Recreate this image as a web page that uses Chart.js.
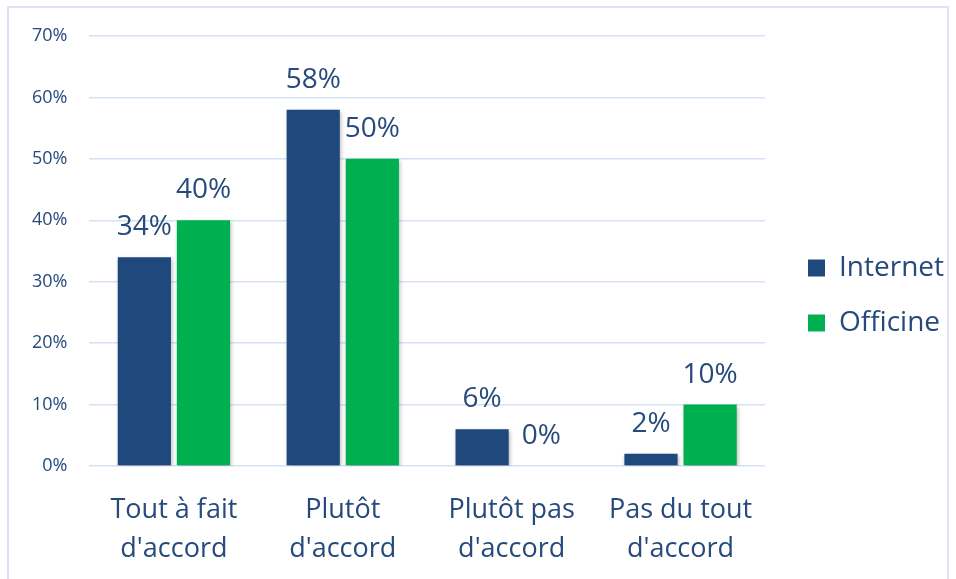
<!DOCTYPE html>
<html>
<head>
<meta charset="utf-8">
<script src="https://cdn.jsdelivr.net/npm/chart.js@4"></script>
<style>
    html, body { margin: 0; padding: 0; background: #fff; }
    #wrap { position: relative; width: 956px; height: 579px; }
    #frame { position: absolute; left: 7px; top: 6px; width: 942px; height: 580px;
             border: 2px solid #dbe4f2; box-sizing: border-box; }
    #box { position: absolute; left: 0; top: 0; width: 956px; height: 579px; }
</style>
</head>
<body>
<div id="wrap">
    <div id="frame"></div>
    <div id="box"><canvas id="chart"></canvas></div>
</div>
<script>
// ─── data ───
const categories = [["Tout à fait", "d'accord"], ["Plutôt", "d'accord"], ["Plutôt pas", "d'accord"], ["Pas du tout", "d'accord"]];
const internetValues = [34, 58, 6, 2];
const officineValues = [40, 50, 0, 10];
const yTicks = [0, 10, 20, 30, 40, 50, 60, 70];

const TEXT_COLOR = '#264a7c';
const FONT = "'Open Sans', sans-serif";

// draws the value above each bar
const valueLabels = {
    id: 'valueLabels',
    afterDatasetsDraw(chart) {
        const ctx = chart.ctx;
        ctx.save();
        ctx.font = '28px ' + FONT;
        ctx.fillStyle = TEXT_COLOR;
        ctx.textAlign = 'center';
        ctx.textBaseline = 'middle';
        chart.data.datasets.forEach((ds, i) => {
            chart.getDatasetMeta(i).data.forEach((bar, j) => {
                ctx.fillText(ds.data[j] + '%', bar.x, bar.y - 30);
            });
        });
        ctx.restore();
    }
};

// soft shadow under bars
const barShadow = {
    id: 'barShadow',
    beforeDatasetsDraw(chart) {
        const ctx = chart.ctx;
        ctx.save();
        ctx.shadowColor = 'rgba(0,0,0,0.28)';
        ctx.shadowBlur = 4;
        ctx.shadowOffsetX = 1;
        ctx.shadowOffsetY = 2;
    },
    afterDatasetsDraw(chart) {
        chart.ctx.restore();
    }
};

// push the legend a bit away from the plot and nudge it up
const legendGap = {
    id: 'legendGap',
    afterLayout(chart) {
        const lg = chart.legend;
        lg.left += 16;
        lg.right += 16;
        lg.top -= 7;
        lg.bottom -= 7;
    }
};

new Chart(document.getElementById('chart'), {
    type: 'bar',
    data: {
        labels: categories,
        datasets: [{
            label: 'Internet',
            data: internetValues,
            backgroundColor: '#1f497d',
            categoryPercentage: 0.7,
            barPercentage: 0.9
        }, {
            label: 'Officine',
            data: officineValues,
            backgroundColor: '#00b050',
            categoryPercentage: 0.7,
            barPercentage: 0.9
        }]
    },
    options: {
        responsive: true,
        maintainAspectRatio: false,
        animation: false,
        layout: {
            padding: { left: 10, top: 36, right: 18, bottom: 10 }
        },
        plugins: {
            legend: {
                position: 'right',
                labels: {
                    boxWidth: 17,
                    boxHeight: 17,
                    padding: 27,
                    color: TEXT_COLOR,
                    font: { family: FONT, size: 28 }
                }
            },
            tooltip: { enabled: false }
        },
        scales: {
            y: {
                min: 0,
                max: 70,
                afterBuildTicks: axis => {
                    axis.ticks = yTicks.map(v => ({ value: v }));
                },
                border: { display: false },
                grid: {
                    color: '#d6e2f3',
                    lineWidth: 1.5,
                    drawTicks: false
                },
                ticks: {
                    padding: 22,
                    color: TEXT_COLOR,
                    font: { family: FONT, size: 18 },
                    callback: v => v + '%'
                }
            },
            x: {
                border: { display: false },
                grid: { display: false },
                afterFit: axis => { axis.height = 103; },
                ticks: {
                    padding: 17,
                    maxRotation: 0,
                    color: TEXT_COLOR,
                    font: { family: FONT, size: 27, lineHeight: 1.45 }
                }
            }
        }
    },
    plugins: [barShadow, valueLabels, legendGap]
});
</script>
</body>
</html>
